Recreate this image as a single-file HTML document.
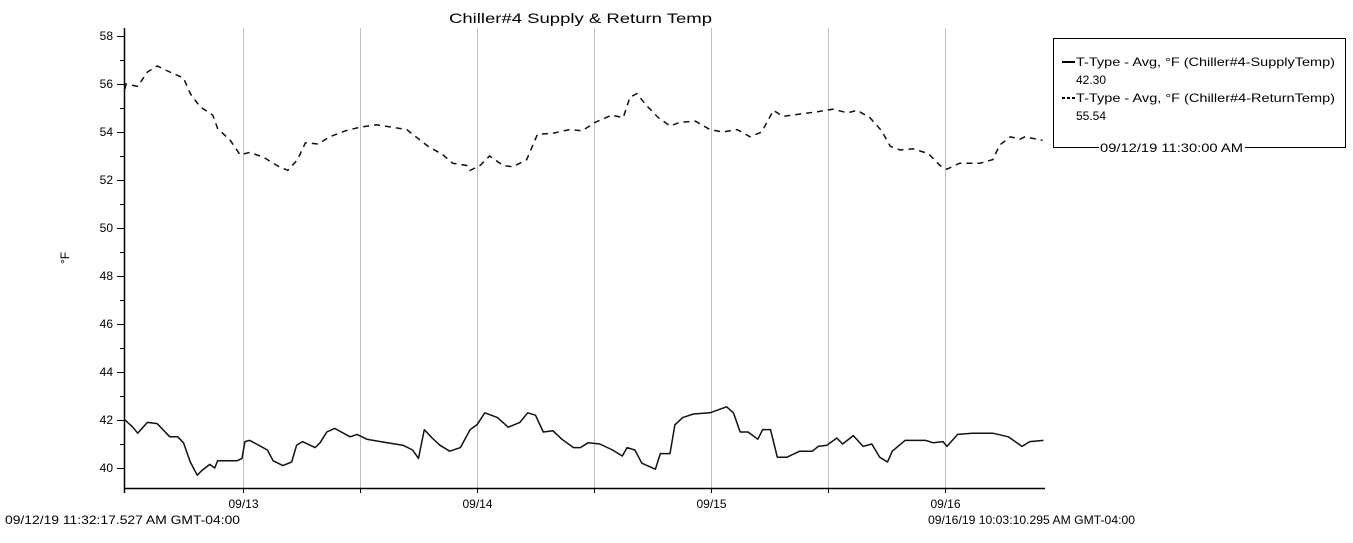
<!DOCTYPE html>
<html><head><meta charset="utf-8"><style>
body{margin:0;background:#fff;}
svg text{font-family:"Liberation Sans",sans-serif;fill:#000;}
</style></head><body>
<svg width="1353" height="538" xmlns="http://www.w3.org/2000/svg" id="c">
<text x="449" y="23" font-size="14" textLength="263" lengthAdjust="spacingAndGlyphs">Chiller#4 Supply &amp; Return Temp</text>
<text x="0" y="0" font-size="12" text-anchor="middle" transform="translate(69,258) rotate(-90)">°F</text>
<g id="grid"></g>
<g id="yaxis"></g>
<g id="xaxis"></g>
<g id="series"></g>
<text x="5" y="524" font-size="12" textLength="235" lengthAdjust="spacingAndGlyphs">09/12/19 11:32:17.527 AM GMT-04:00</text>
<text x="928" y="524" font-size="12" textLength="207" lengthAdjust="spacingAndGlyphs">09/16/19 10:03:10.295 AM GMT-04:00</text>
<g>
<rect x="1053.5" y="38.5" width="292" height="109" fill="#fff" stroke="#000" stroke-width="1"/>
<line x1="1062" y1="62" x2="1075" y2="62" stroke="#000" stroke-width="2"/>
<text x="1076" y="66" font-size="12" textLength="259" lengthAdjust="spacingAndGlyphs">T-Type - Avg, °F (Chiller#4-SupplyTemp)</text>
<text x="1076" y="84" font-size="12" textLength="30" lengthAdjust="spacingAndGlyphs">42.30</text>
<line x1="1062" y1="98" x2="1075" y2="98" stroke="#000" stroke-width="2" stroke-dasharray="3,2"/>
<text x="1076" y="102" font-size="12" textLength="259" lengthAdjust="spacingAndGlyphs">T-Type - Avg, °F (Chiller#4-ReturnTemp)</text>
<text x="1076" y="120" font-size="12" textLength="30" lengthAdjust="spacingAndGlyphs">55.54</text>
<rect x="1099" y="140" width="146" height="14" fill="#fff"/>
<text x="1100" y="152" font-size="12" textLength="143" lengthAdjust="spacingAndGlyphs">09/12/19 11:30:00 AM</text>
</g>
</svg>
<script>
const supplyT=[0,0.8,1.3,2.3,3.3,4.6,5.4,6.0,6.7,7.4,7.9,8.7,9.2,9.5,11.5,12.0,12.3,12.8,14.6,15.2,16.2,17.1,17.6,18.2,19.5,20.0,20.7,21.5,23.1,23.8,24.8,26.9,28.5,29.5,30.1,30.7,31.5,32.3,33.3,34.4,35.4,36.1,36.9,38.2,39.3,40.5,41.3,42.1,42.9,43.9,44.8,46.0,46.7,47.5,48.7,50.0,51.0,51.5,52.3,53.0,54.4,54.9,55.9,56.4,57.2,58.3,60.0,61.7,62.4,63.1,63.9,64.9,65.4,66.2,66.9,67.9,69.2,70.5,71.1,72.0,73.0,73.6,74.7,75.7,76.6,77.4,78.2,78.7,80.0,82.1,82.9,83.9,84.3,85.4,86.9,89.0,90.6,92.0,92.8,94.2];
const supplyV=[42.0,41.7,41.45,41.9,41.85,41.3,41.3,41.05,40.25,39.7,39.9,40.15,40.0,40.3,40.3,40.4,41.1,41.15,40.75,40.3,40.1,40.25,40.95,41.1,40.85,41.05,41.5,41.65,41.3,41.4,41.2,41.05,40.95,40.75,40.4,41.6,41.25,40.95,40.7,40.85,41.6,41.8,42.3,42.1,41.7,41.9,42.3,42.2,41.5,41.55,41.2,40.85,40.85,41.05,41.0,40.75,40.5,40.85,40.75,40.2,39.95,40.6,40.6,41.8,42.1,42.25,42.3,42.55,42.3,41.5,41.5,41.2,41.6,41.6,40.45,40.45,40.7,40.7,40.9,40.95,41.25,41.0,41.35,40.9,41.0,40.45,40.25,40.7,41.15,41.15,41.05,41.1,40.9,41.4,41.45,41.45,41.3,40.9,41.1,41.15];
const returnT=[0,0.1,1.3,2.3,3.3,4.6,6.0,6.7,7.7,9.0,9.5,10.8,11.8,12.8,14.2,15.6,16.7,17.7,18.5,19.8,21.0,22.6,24.1,25.8,27.4,28.9,30.3,31.1,32.6,33.6,35.1,35.4,36.4,37.4,38.8,39.8,41.2,42.3,43.9,45.6,46.9,48.2,49.9,51.1,51.8,52.5,53.5,54.7,55.9,56.9,58.5,60.0,61.3,62.8,64.1,65.3,66.5,67.5,71.1,72.6,74.1,75.1,76.4,77.6,78.5,79.5,80.8,82.4,83.6,84.3,85.6,87.7,89.0,89.7,90.8,91.8,92.3,94.1];
const returnV=[55.8,56.0,55.9,56.5,56.75,56.5,56.25,55.6,55.05,54.7,54.15,53.65,53.05,53.15,52.95,52.6,52.4,52.85,53.55,53.5,53.8,54.05,54.2,54.3,54.2,54.1,53.65,53.4,53.05,52.7,52.6,52.4,52.6,53.0,52.6,52.55,52.85,53.9,53.95,54.1,54.05,54.4,54.7,54.6,55.45,55.6,55.1,54.6,54.25,54.4,54.45,54.1,54.0,54.1,53.8,54.0,54.9,54.65,54.85,54.95,54.8,54.9,54.6,54.05,53.4,53.25,53.3,53.1,52.6,52.45,52.7,52.7,52.85,53.45,53.8,53.7,53.8,53.65];
const yTicks=[40,42,44,46,48,50,52,54,56,58];
const xTickHours=[12.1,24.1,36.1,48.1,60.1,72.1,84.1];
const xTickLabels=["09/13","","09/14","","09/15","","09/16"];

const NS="http://www.w3.org/2000/svg";
const X0=125,PX_PER_H=9.75,Y58=36,PX_PER_F=24,TOP=28,BOT=488,RIGHT=1045;
const xs=t=>X0+t*PX_PER_H;
const ys=v=>Y58+(58-v)*PX_PER_F;
function mk(tag,attrs,parent){const e=document.createElementNS(NS,tag);for(const k in attrs)e.setAttribute(k,attrs[k]);parent.appendChild(e);return e;}
const grid=document.getElementById('grid'),ya=document.getElementById('yaxis'),xa=document.getElementById('xaxis'),se=document.getElementById('series');
xTickHours.forEach((h,i)=>{
  const x=Math.round(xs(h))+0.5;
  const g=mk('line',{x1:x,y1:TOP,x2:x,y2:BOT,stroke:'#c0c0c0','stroke-width':1},grid);
  
  
  const t=mk('line',{x1:x,y1:BOT,x2:x,y2:BOT+5,stroke:'#000'},xa);
  
  
  if(xTickLabels[i]){const l=mk('text',{x:x,y:BOT+20,'font-size':12,'text-anchor':'middle'},xa);l.textContent=xTickLabels[i];
  
  }
});
mk('line',{x1:124.5,y1:TOP,x2:124.5,y2:BOT+5,stroke:'#000','stroke-width':1.5},ya);
mk('line',{x1:124,y1:BOT+0.5,x2:RIGHT,y2:BOT+0.5,stroke:'#000','stroke-width':1.5},xa);
for(let v=40;v<=58;v++){
  const y=Math.round(ys(v))+0.5;
  const big=yTicks.includes(v);
  mk('line',{x1:big?117:120,y1:y,x2:124,y2:y,stroke:'#000'},ya);
}
yTicks.forEach(v=>{
  const l=mk('text',{x:113,y:ys(v)+4,'font-size':12,'text-anchor':'end'},ya);l.textContent=v;
  
  
});
function path(T,V){return T.map((t,i)=>(i?'L':'M')+xs(t).toFixed(1)+','+ys(V[i]).toFixed(1)).join('');}
const p1=mk('path',{d:path(supplyT,supplyV),fill:'none',stroke:'#111','stroke-width':1.5,'stroke-linejoin':'round'},se);


const p2=mk('path',{d:path(returnT,returnV),fill:'none',stroke:'#111','stroke-width':1.5,'stroke-dasharray':'6,5'},se);


</script>
</body></html>
